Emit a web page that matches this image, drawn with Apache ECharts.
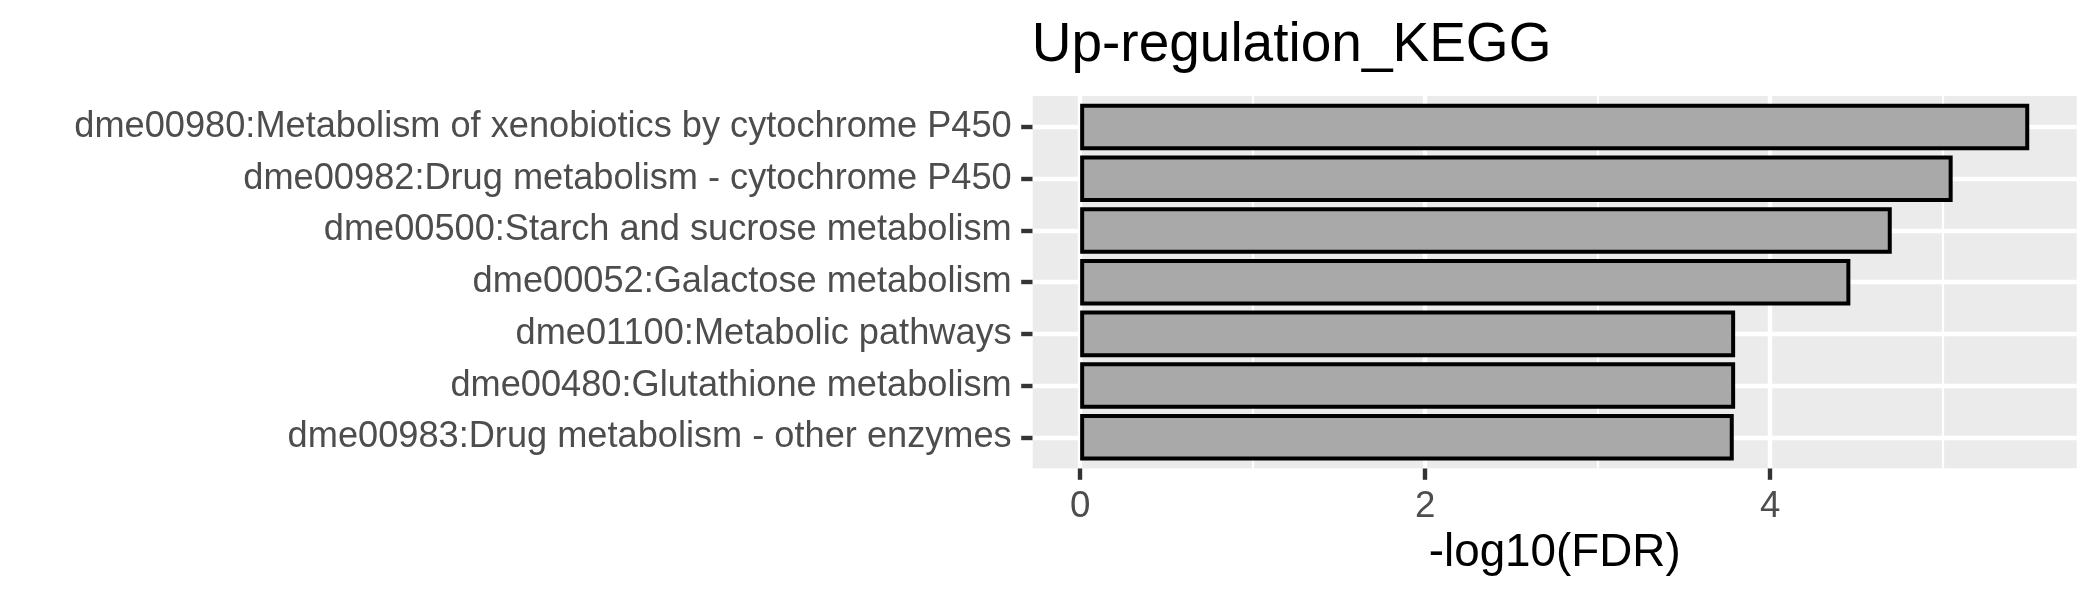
<!DOCTYPE html>
<html>
<head>
<meta charset="utf-8">
<script src="https://cdn.jsdelivr.net/npm/echarts@6/dist/echarts.min.js"></script>
<style>
html,body{margin:0;padding:0;background:#ffffff;}
#chart{width:2100px;height:600px;}
</style>
</head>
<body>
<div id="chart"></div>
<script>
const titleText = 'Up-regulation_KEGG';
const xAxisTitle = '-log10(FDR)';
const categories = [
  'dme00980:Metabolism of xenobiotics by cytochrome P450',
  'dme00982:Drug metabolism - cytochrome P450',
  'dme00500:Starch and sucrose metabolism',
  'dme00052:Galactose metabolism',
  'dme01100:Metabolic pathways',
  'dme00480:Glutathione metabolism',
  'dme00983:Drug metabolism - other enzymes'
];
const values = [5.502, 5.058, 4.705, 4.465, 3.797, 3.797, 3.789];
const xMajorTicks = [0, 2, 4];
const xMinorTicks = [1, 3, 5];

const FONT = 'Liberation Sans, Arial, sans-serif';
const maxVal = Math.max.apply(null, values);
const xMin = -0.05 * maxVal;
const xMax = 1.05 * maxVal;

// panel geometry
const panelLeft = 1032.7, panelRight = 2076.7, panelTop = 96, panelBottom = 468.3;
const band = (panelBottom - panelTop) / (categories.length + 0.2);
const inset = 0.1 * band;

const chart = echarts.init(document.getElementById('chart'), null, {renderer: 'canvas'});

const hiddenLine = {show: true, onZero: false, lineStyle: {color: 'rgba(0,0,0,0)', width: 0}};

const option = {
  backgroundColor: '#ffffff',
  animation: false,
  title: {
    text: titleText,
    left: panelLeft - 1,
    top: 18,
    padding: 0,
    textStyle: {fontFamily: FONT, fontSize: 55, fontWeight: 'normal', color: '#000000'}
  },
  grid: [
    {
      left: panelLeft, right: 2100 - panelRight, top: panelTop, bottom: 600 - panelBottom,
      show: true, backgroundColor: '#EBEBEB', borderWidth: 0, containLabel: false
    },
    {
      left: panelLeft, right: 2100 - panelRight, top: panelTop + inset, bottom: 600 - panelBottom + inset,
      show: false, containLabel: false
    }
  ],
  xAxis: [
    {
      type: 'value', gridIndex: 0, min: xMin, max: xMax, position: 'bottom',
      axisLine: hiddenLine,
      splitLine: {show: false},
      axisTick: {show: true, customValues: xMajorTicks, length: 11.5, lineStyle: {color: '#333333', width: 4.4}},
      axisLabel: {show: true, customValues: xMajorTicks, color: '#4D4D4D', fontFamily: FONT, fontSize: 36.7, margin: 20,
        formatter: function (v) { return String(v); }},
      name: xAxisTitle,
      nameLocation: 'middle',
      nameGap: 62,
      nameTextStyle: {color: '#000000', fontFamily: FONT, fontSize: 45.8}
    },
    {
      type: 'value', gridIndex: 1, min: xMin, max: xMax, show: false,
      axisLine: {onZero: false},
      splitLine: {show: false}
    }
  ],
  yAxis: [
    {
      type: 'value', gridIndex: 0, min: 0, max: 1, show: false,
      axisLine: {onZero: false},
      splitLine: {show: false}
    },
    {
      type: 'category', gridIndex: 1, data: categories, inverse: true, position: 'left',
      axisLine: hiddenLine,
      splitLine: {show: false},
      axisTick: {show: true, alignWithLabel: true, inside: false, length: 11.5, lineStyle: {color: '#333333', width: 4.4}},
      axisLabel: {color: '#4D4D4D', fontFamily: FONT, fontSize: 36.2, margin: 21}
    }
  ],
  series: [
    {
      type: 'line', xAxisIndex: 0, yAxisIndex: 0, data: [], silent: true,
      z: 1,
      markLine: {
        silent: true, symbol: ['none', 'none'], z: 1, animation: false,
        label: {show: false},
        emphasis: {disabled: true},
        lineStyle: {color: '#ffffff', type: 'solid', width: 4.4},
        data: xMajorTicks.map(function (v) { return {xAxis: v}; })
          .concat(xMinorTicks.map(function (v) { return {xAxis: v, lineStyle: {color: '#ffffff', type: 'solid', width: 2.2}}; }))
      }
    },
    {
      type: 'bar', xAxisIndex: 1, yAxisIndex: 1, data: values,
      barWidth: '90%', z: 3,
      itemStyle: {color: '#A9A9A9', borderColor: '#000000', borderWidth: 4},
      emphasis: {disabled: true},
      markLine: {
        silent: true, symbol: ['none', 'none'], z: 1, animation: false,
        label: {show: false},
        emphasis: {disabled: true},
        lineStyle: {color: '#ffffff', type: 'solid', width: 4.4},
        data: categories.map(function (c) { return {yAxis: c}; })
      }
    }
  ]
};
chart.setOption(option);
</script>
</body>
</html>
